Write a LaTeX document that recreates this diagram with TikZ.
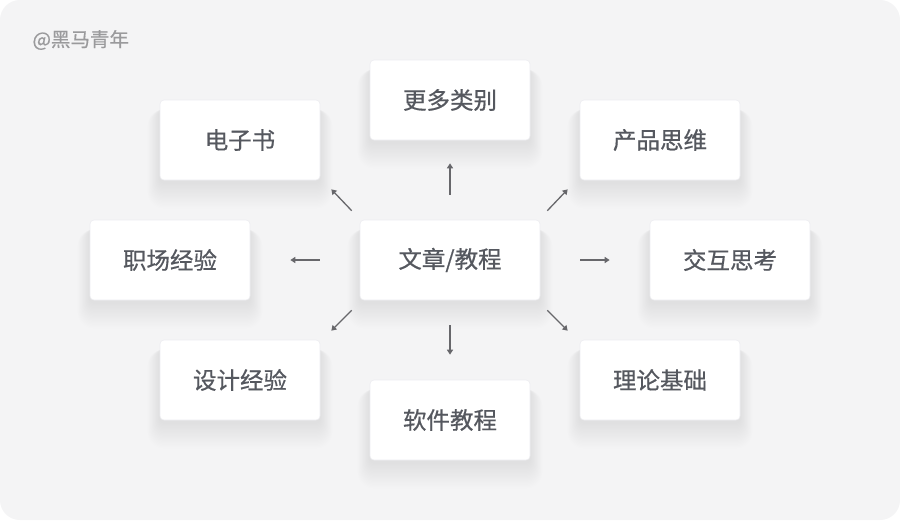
\documentclass[tikz,border=0pt]{standalone}
\usepackage{fontspec}
\setmainfont{Noto Sans CJK SC}
\newfontfamily\medfont[FakeBold=0.6]{Noto Sans CJK SC}
\usetikzlibrary{calc,arrows.meta}
\definecolor{bgc}{HTML}{F4F4F5}
\definecolor{txtc}{HTML}{55585F}
\definecolor{markc}{HTML}{9A9A9C}
\definecolor{edgec}{HTML}{EDEDF1}
\definecolor{arrc}{HTML}{67676B}
\definecolor{shc}{HTML}{8A90A8}
\newcommand{\softshadow}[1]{%
  \foreach \i in {1,...,20}{%
    \fill[shc, opacity=0.0065, rounded corners=4pt+0.6*\i pt]
      ($(#1.north west)+(-0.6*\i,10)$) rectangle ($(#1.south east)+(0.6*\i,2+1.3*\i)$);
  }}
\begin{document}
\begin{tikzpicture}[x=1pt,y=-1pt,
  box/.style={rectangle, fill=white, draw=edgec, line width=0.6pt, rounded corners=4pt,
    minimum width=160pt, minimum height=80pt, inner sep=0pt, text=txtc,
    font=\medfont\fontsize{23.5}{27}\selectfont},
  arr/.style={draw=arrc, line width=1.3pt, -{Triangle[length=5pt,width=6pt]}}]
\fill[white] (0,0) rectangle (900,520);
\fill[bgc, rounded corners=20pt] (0,0) rectangle (900,520);
\useasboundingbox (0,0) rectangle (900,520);
\node[anchor=west, text=markc, font=\medfont\fontsize{19.5}{23}\selectfont] (mark) at (29,40) {@黑马青年};
% placeholders for the shadows, then the boxes
\begin{scope}[every node/.style={box, draw=none, fill=none, text=bgc}]
\node (s1) at (450,100) {}; \node (s2) at (240,140) {}; \node (s3) at (660,140) {};
\node (s4) at (170,260) {}; \node[minimum width=180pt] (s5) at (450,260) {};
\node (s6) at (730,260) {}; \node (s7) at (240,380) {}; \node (s8) at (450,420) {};
\node (s9) at (660,380) {};
\end{scope}
\foreach \n in {s1,s2,s3,s4,s5,s6,s7,s8,s9}{\softshadow{\n}}
\node[box] (more) at (450,100) {更多类别};
\node[box] (ebook) at (240,140) {电子书};
\node[box] (prod) at (660,140) {产品思维};
\node[box] (job) at (170,260) {职场经验};
\node[box, minimum width=180pt] (c) at (450,260) {文章/教程};
\node[box] (inter) at (730,260) {交互思考};
\node[box] (design) at (240,380) {设计经验};
\node[box] (soft) at (450,420) {软件教程};
\node[box] (theory) at (660,380) {理论基础};
\draw[arr] ($(c.north)+(0,-25)$) -- ($(more.south)+(0,23)$);
\draw[arr] ($(c.north west)+(-8,-9)$) -- ($(ebook.south east)+(11,9)$);
\draw[arr] ($(c.north east)+(7,-9)$) -- ($(prod.south west)+(-12,9)$);
\draw[arr] ($(c.west)+(-40,0)$) -- ($(job.east)+(40,0)$);
\draw[arr] ($(c.east)+(40,0)$) -- ($(inter.west)+(-40,0)$);
\draw[arr] ($(c.south west)+(-8,10)$) -- ($(design.north east)+(11,-9)$);
\draw[arr] ($(c.south)+(0,25)$) -- ($(soft.north)+(0,-25)$);
\draw[arr] ($(c.south east)+(7,10)$) -- ($(theory.north west)+(-12,-9)$);
\end{tikzpicture}
\end{document}
